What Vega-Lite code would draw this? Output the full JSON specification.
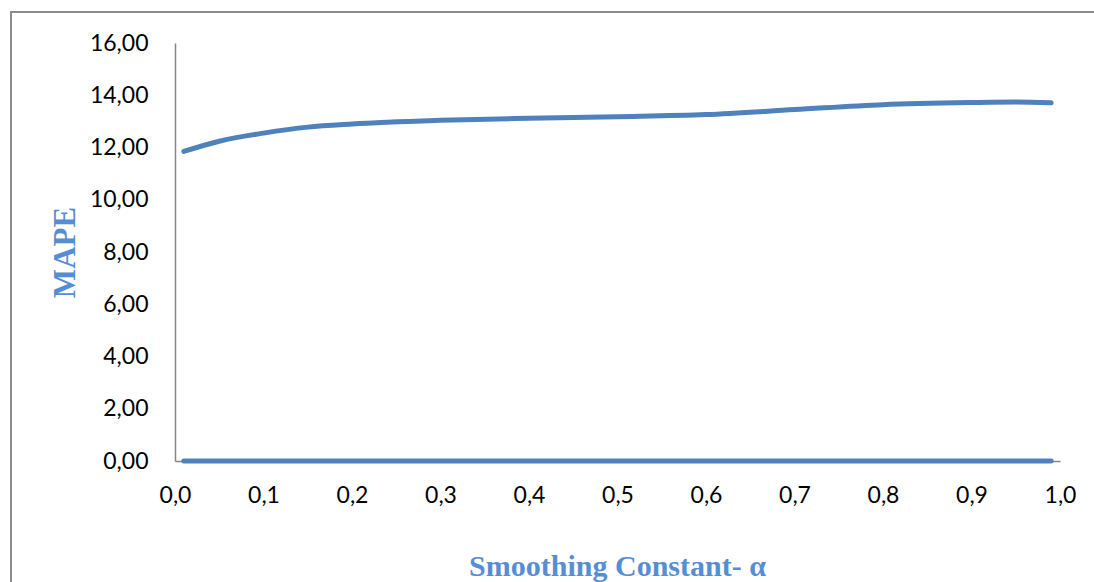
{
  "$schema": "https://vega.github.io/schema/vega-lite/v6.json",
  "autosize": {"type": "none"},
  "width": 885,
  "height": 418,
  "padding": {"left": 175, "top": 43, "right": 34, "bottom": 121},
  "background": "white",
  "config": {"view": {"stroke": null}},
  "datasets": {
    "mape": [
      {"alpha": 0.01, "value": 11.85, "series": "MAPE"},
      {"alpha": 0.05, "value": 12.24, "series": "MAPE"},
      {"alpha": 0.10, "value": 12.55, "series": "MAPE"},
      {"alpha": 0.15, "value": 12.78, "series": "MAPE"},
      {"alpha": 0.20, "value": 12.90, "series": "MAPE"},
      {"alpha": 0.30, "value": 13.04, "series": "MAPE"},
      {"alpha": 0.40, "value": 13.12, "series": "MAPE"},
      {"alpha": 0.50, "value": 13.18, "series": "MAPE"},
      {"alpha": 0.60, "value": 13.26, "series": "MAPE"},
      {"alpha": 0.70, "value": 13.45, "series": "MAPE"},
      {"alpha": 0.80, "value": 13.64, "series": "MAPE"},
      {"alpha": 0.90, "value": 13.72, "series": "MAPE"},
      {"alpha": 0.95, "value": 13.74, "series": "MAPE"},
      {"alpha": 0.99, "value": 13.71, "series": "MAPE"},
      {"alpha": 0.01, "value": 0, "series": "Zero"},
      {"alpha": 0.99, "value": 0, "series": "Zero"}
    ],
    "frame": [{"alpha": -0.1853, "alpha2": 1.2, "value": 17.19, "value2": -6}]
  },
  "layer": [
    {
      "data": {"name": "mape"},
      "mark": {"type": "line", "strokeWidth": 5, "strokeCap": "round", "interpolate": "monotone", "color": "#4F81BD"},
      "encoding": {
        "detail": {"field": "series", "type": "nominal"},
        "x": {
          "field": "alpha", "type": "quantitative",
          "scale": {"domain": [0, 1], "nice": false},
          "axis": {
            "values": [0, 0.1, 0.2, 0.3, 0.4, 0.5, 0.6, 0.7, 0.8, 0.9, 1.0],
            "labelExpr": "replace(format(datum.value, '.1f'), '.', ',')",
            "grid": false, "ticks": false,
            "domainColor": "#868686", "domainWidth": 1.5,
            "labelFont": "Lato", "labelFontSize": 23, "labelColor": "#000000",
            "labelPadding": 23, "labelFlush": false,
            "title": "Smoothing Constant- α",
            "titleFont": "Liberation Serif", "titleFontSize": 30, "titleFontWeight": "bold",
            "titleColor": "#558ED5", "titleX": 442, "titleY": 114,
            "titleAlign": "center", "titleBaseline": "alphabetic"
          }
        },
        "y": {
          "field": "value", "type": "quantitative",
          "scale": {"domain": [0, 16], "nice": false},
          "axis": {
            "values": [0, 2, 4, 6, 8, 10, 12, 14, 16],
            "labelExpr": "replace(format(datum.value, '.2f'), '.', ',')",
            "grid": false, "ticks": false,
            "domainColor": "#868686", "domainWidth": 1.5,
            "labelFont": "Lato", "labelFontSize": 23, "labelColor": "#000000",
            "labelPadding": 27,
            "title": "MAPE",
            "titleFont": "Liberation Serif", "titleFontSize": 31, "titleFontWeight": "bold",
            "titleColor": "#558ED5", "titleAngle": -90, "titleX": -110, "titleY": 209,
            "titleAlign": "center", "titleBaseline": "middle"
          }
        }
      }
    },
    {
      "data": {"name": "frame"},
      "mark": {"type": "rect", "fill": null, "stroke": "#8c8c8c", "strokeWidth": 2, "clip": false},
      "encoding": {
        "x": {"field": "alpha", "type": "quantitative"},
        "x2": {"field": "alpha2"},
        "y": {"field": "value", "type": "quantitative"},
        "y2": {"field": "value2"}
      }
    }
  ]
}
